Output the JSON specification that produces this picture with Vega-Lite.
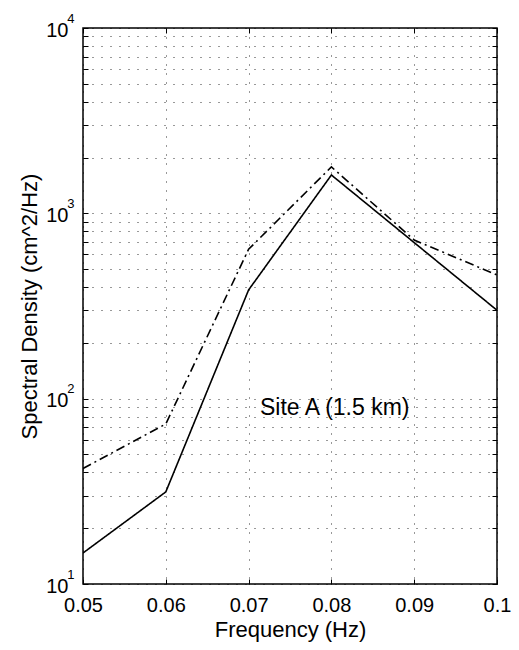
{
  "$schema": "https://vega.github.io/schema/vega-lite/v6.json",
  "width": 414,
  "height": 556,
  "autosize": "none",
  "padding": {"left": 83, "top": 28, "right": 22, "bottom": 66},
  "background": "white",
  "config": {
    "view": {"stroke": "black", "strokeWidth": 1.5},
    "font": "Liberation Sans",
    "axis": {
      "labelFont": "Liberation Sans",
      "titleFont": "Liberation Sans",
      "labelFontSize": 20,
      "titleFontSize": 22,
      "labelColor": "black",
      "titleColor": "black",
      "titleFontWeight": "normal",
      "domain": false,
      "tickColor": "black",
      "tickSize": -5,
      "gridColor": "black",
      "gridDash": [1, 8],
      "gridOpacity": 0.8,
      "gridWidth": 1,
      "labelFlush": false,
      "labelOverlap": false
    }
  },
  "datasets": {
    "lines": [
      {"f": 0.05, "s": 14.7, "series": "solid"},
      {"f": 0.06, "s": 31.4, "series": "solid"},
      {"f": 0.07, "s": 386, "series": "solid"},
      {"f": 0.08, "s": 1610, "series": "solid"},
      {"f": 0.09, "s": 695, "series": "solid"},
      {"f": 0.1, "s": 300, "series": "solid"},
      {"f": 0.05, "s": 42, "series": "dashdot"},
      {"f": 0.06, "s": 73, "series": "dashdot"},
      {"f": 0.07, "s": 640, "series": "dashdot"},
      {"f": 0.08, "s": 1780, "series": "dashdot"},
      {"f": 0.09, "s": 718, "series": "dashdot"},
      {"f": 0.1, "s": 465, "series": "dashdot"}
    ],
    "labels": [
      {"f": 0.0804, "s": 89, "text": "Site A (1.5 km)"}
    ]
  },
  "resolve": {
    "scale": {"x": "shared", "y": "shared"},
    "axis": {"x": "independent", "y": "independent"}
  },
  "layer": [
    {
      "data": {"name": "lines"},
      "mark": {"type": "line", "color": "black", "strokeWidth": 1.6, "clip": true},
      "encoding": {
        "x": {
          "field": "f",
          "type": "quantitative",
          "scale": {"domain": [0.05, 0.1], "nice": false, "zero": false},
          "axis": {
            "orient": "bottom",
            "title": "Frequency (Hz)",
            "values": [0.05, 0.06, 0.07, 0.08, 0.09, 0.1],
            "format": "~g",
            "labelPadding": 16,
            "titlePadding": 4,
            "grid": true
          }
        },
        "y": {
          "field": "s",
          "type": "quantitative",
          "scale": {"type": "log", "domain": [10, 10000], "nice": false},
          "axis": {
            "orient": "left",
            "title": "Spectral Density (cm^2/Hz)",
            "values": [10, 20, 30, 40, 50, 60, 70, 80, 90, 100, 200, 300, 400, 500, 600, 700, 800, 900, 1000, 2000, 3000, 4000, 5000, 6000, 7000, 8000, 9000, 10000],
            "labelExpr": "(datum.value == 10 || datum.value == 100 || datum.value == 1000 || datum.value == 10000) ? '10' : ''",
            "labelAlign": "right",
            "labelBaseline": "middle",
            "labelPadding": 20,
            "labelOffset": 2,
            "titlePadding": 4,
            "grid": true
          }
        },
        "strokeDash": {
          "field": "series",
          "type": "nominal",
          "scale": {"domain": ["solid", "dashdot"], "range": [[1, 0], [9, 4, 2, 4]]},
          "legend": null
        },
        "detail": {"field": "series"}
      }
    },
    {
      "data": {"name": "labels"},
      "mark": {"type": "text", "font": "Liberation Sans", "fontSize": 23, "color": "black", "align": "center", "baseline": "middle"},
      "encoding": {
        "x": {
          "field": "f",
          "type": "quantitative",
          "axis": {
            "orient": "top",
            "title": null,
            "values": [0.05, 0.06, 0.07, 0.08, 0.09, 0.1],
            "labels": false,
            "grid": false
          }
        },
        "y": {
          "field": "s",
          "type": "quantitative",
          "axis": {
            "orient": "left",
            "title": null,
            "values": [10, 100, 1000, 10000],
            "labelExpr": "datum.value == 10 ? '1' : datum.value == 100 ? '2' : datum.value == 1000 ? '3' : '4'",
            "labelFontSize": 13,
            "labelAlign": "right",
            "labelBaseline": "middle",
            "labelPadding": 9,
            "labelOffset": -10,
            "ticks": false,
            "grid": false
          }
        },
        "text": {"field": "text"}
      }
    },
    {
      "data": {"name": "labels"},
      "mark": {"type": "point", "opacity": 0},
      "encoding": {
        "x": {"field": "f", "type": "quantitative", "axis": null},
        "y": {
          "field": "s",
          "type": "quantitative",
          "axis": {
            "orient": "right",
            "title": null,
            "values": [10, 20, 30, 40, 50, 60, 70, 80, 90, 100, 200, 300, 400, 500, 600, 700, 800, 900, 1000, 2000, 3000, 4000, 5000, 6000, 7000, 8000, 9000, 10000],
            "labels": false,
            "grid": false
          }
        }
      }
    }
  ]
}
